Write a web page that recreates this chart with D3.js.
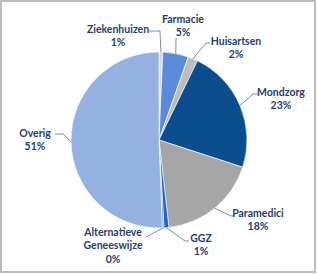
<!DOCTYPE html>
<html>
<head>
<meta charset="utf-8">
<script src="https://cdn.jsdelivr.net/npm/d3@7"></script>
<style>
  body { margin: 0; background: #fff; }
  #chart { display: block; }
</style>
</head>
<body>
<svg id="chart" width="317" height="274"></svg>
<script>
// data
const categories = ['Ziekenhuizen', 'Farmacie', 'Huisartsen', 'Mondzorg', 'Paramedici', 'GGZ', 'Alternatieve Geneeswijze', 'Overig'];
const shares = [0.7, 4.7, 1.8, 22.8, 18.2, 0.9, 0.3, 50.6];
const labelLines = [['Ziekenhuizen'], ['Farmacie'], ['Huisartsen'], ['Mondzorg'], ['Paramedici'], ['GGZ'], ['Alternatieve', 'Geneeswijze'], ['Overig']];
const sliceColors = ['#d9d9d9', '#5a8ad8', '#bdbdbd', '#0b4e8f', '#a6a6a6', '#1a6ccc', '#4f7fc8', '#94b1e2'];

// layout: label centre and leader elbow/end, relative to pie centre
const labelLayout = [
  {tx: -41, ty: -111, elbow: [1, -109], end: [-10, -109]},
  {tx: 24, ty: -121, elbow: [17, -102], end: [17, -102]},
  {tx: 77, ty: -99, elbow: [47, -97], end: [51, -97]},
  {tx: 122, ty: -48, elbow: [94, -46], end: [99, -46]},
  {tx: 99, ty: 73, elbow: [72, 76], end: [75, 76]},
  {tx: 42, ty: 98, elbow: [26, 101], end: [30, 101]},
  {tx: -46, ty: 92, elbow: [-13, 97], end: [-13, 97]},
  {tx: -124, ty: -7, elbow: [-96, -6], end: [-104, -6]}
];

const svg = d3.select('#chart');
const width = 317, height = 274;
const cx = 159, cy = 140, radius = 88;
const lineH = 13.5;

// frame
svg.append('rect')
  .attr('x', 1).attr('y', 1)
  .attr('width', width - 3).attr('height', height - 3)
  .attr('fill', 'none')
  .attr('stroke', '#bcbcbc')
  .attr('stroke-width', 2);

const data = categories.map((c, i) => ({name: c, value: shares[i], lines: labelLines[i], color: sliceColors[i], pos: labelLayout[i]}));
const total = d3.sum(shares);

const pie = d3.pie().sort(null).value(d => d.value);
const arc = d3.arc().innerRadius(0).outerRadius(radius);
const edgeArc = d3.arc().innerRadius(radius).outerRadius(radius);

const g = svg.append('g').attr('transform', `translate(${cx},${cy})`);
const arcs = pie(data);

g.selectAll('path.slice')
  .data(arcs)
  .join('path')
  .attr('class', 'slice')
  .attr('d', arc)
  .attr('fill', d => d.data.color)
  .attr('stroke', '#fff')
  .attr('stroke-width', 0.6);

// leader lines
g.selectAll('polyline.leader')
  .data(arcs)
  .join('polyline')
  .attr('class', 'leader')
  .attr('points', d => {
    const s = edgeArc.centroid(d);
    return [s, d.data.pos.elbow, d.data.pos.end].map(p => p.join(',')).join(' ');
  })
  .attr('fill', 'none')
  .attr('stroke', '#6f7f99')
  .attr('stroke-width', 0.9);

// labels
const fmt = v => Math.round(v / total * 100) + '%';
const labels = g.selectAll('text.lab')
  .data(arcs)
  .join('text')
  .attr('class', 'lab')
  .attr('text-anchor', 'middle')
  .attr('font-family', 'Lato, "Open Sans", sans-serif')
  .attr('font-weight', 'bold')
  .attr('font-size', 10.5)
  .attr('fill', '#27406f');

labels.each(function(d) {
  const t = d3.select(this);
  const lines = d.data.lines.concat([fmt(d.data.value)]);
  lines.forEach((l, i) => {
    t.append('tspan')
      .attr('x', d.data.pos.tx)
      .attr('y', d.data.pos.ty + i * lineH)
      .attr('dy', '0.35em')
      .text(l);
  });
});
</script>
</body>
</html>
